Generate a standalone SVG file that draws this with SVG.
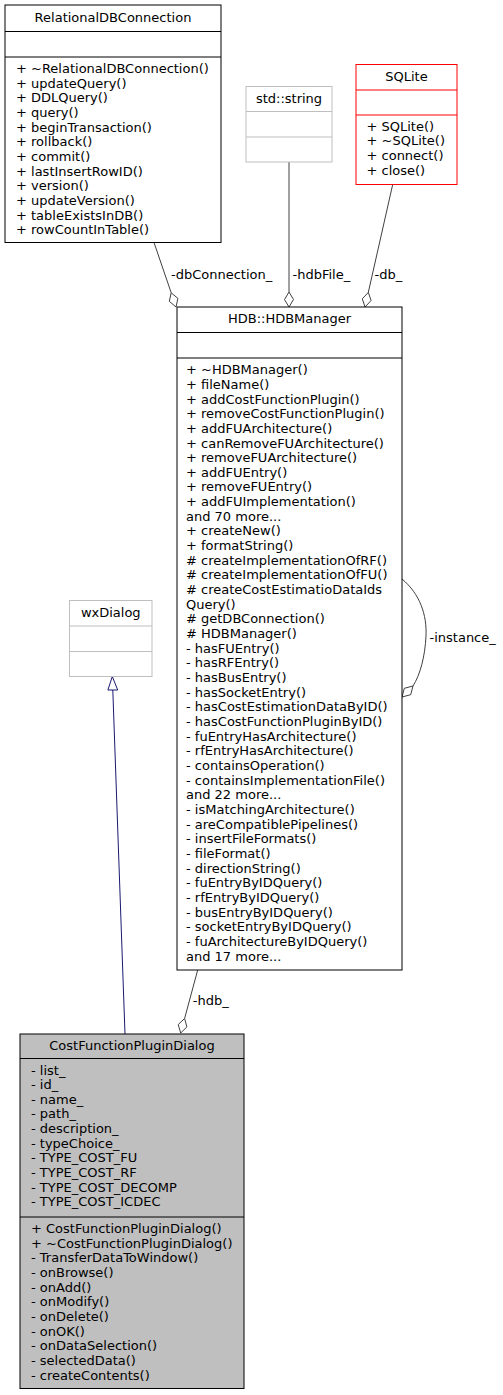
<svg xmlns="http://www.w3.org/2000/svg" width="503" height="1395" viewBox="0 0 503 1395">
<style>
text{font-family:"DejaVu Sans","Liberation Sans",sans-serif;font-size:13px;fill:#000}
.c{text-anchor:middle}
.box{fill:#fff;stroke:#000;stroke-width:1}
.ext{fill:#fff;stroke:#bfbfbf;stroke-width:1}
.trunc{fill:#fff;stroke:#ff0000;stroke-width:1}
.focus{fill:#bfbfbf;stroke:#000;stroke-width:1}
.sep{stroke:#000;stroke-width:1}
.sepg{stroke:#bfbfbf;stroke-width:1}
.sepr{stroke:#ff0000;stroke-width:1}
.edge{fill:none;stroke:#404040;stroke-width:1}
.dia{fill:#fff;stroke:#404040;stroke-width:1}
.inh{fill:none;stroke:#191970;stroke-width:1}
.tri{fill:#fff;stroke:#191970;stroke-width:1}
</style>
<rect width="503" height="1395" fill="#fff"/>
<g id="connectors">
<path class="edge" d="M154,242.5 L171.2,292.8"/>
<polygon class="dia" points="176,307 169.3,301.3 171.2,292.8 177.9,298.4"/>
<text x="171" y="279">-dbConnection_</text>
<path class="edge" d="M289,162 L289,292"/>
<polygon class="dia" points="289,307 284.5,299.5 289,292 293.5,299.5"/>
<text x="292.5" y="279">-hdbFile_</text>
<path class="edge" d="M392.7,184.5 L368.3,292.4"/>
<polygon class="dia" points="365,307 362.3,298.8 368.3,292.4 371.1,300.5"/>
<text x="374.5" y="279">-db_</text>
<path class="edge" d="M402,579 C420,594 427,615 426,636 C425,657 420,675 413,686"/>
<polygon class="dia" points="402,697 404.3,688.3 413,686 410.7,694.7"/>
<text x="429.5" y="642">-instance_</text>
<path class="edge" d="M197.7,970 L184.6,1018.5"/>
<polygon class="dia" points="180.7,1033 178.2,1024.6 184.6,1018.5 186.9,1026.9"/>
<text x="192.8" y="1005">-hdb_</text>
<path class="inh" d="M125,1034 L112.8,690"/>
<polygon class="tri" points="112.3,676.5 107.9,690 117.7,690"/>
</g>
<g id="RelationalDBConnection">
<rect class="box" x="5" y="5" width="216" height="237.5"/>
<line class="sep" x1="5" y1="31.5" x2="221" y2="31.5"/>
<line class="sep" x1="5" y1="57" x2="221" y2="57"/>
<text class="c" x="113" y="21.5">RelationalDBConnection</text>
<text x="16" y="73">+ ~RelationalDBConnection()<tspan x="16" dy="14.66">+ updateQuery()</tspan><tspan x="16" dy="14.66">+ DDLQuery()</tspan><tspan x="16" dy="14.66">+ query()</tspan><tspan x="16" dy="14.66">+ beginTransaction()</tspan><tspan x="16" dy="14.66">+ rollback()</tspan><tspan x="16" dy="14.66">+ commit()</tspan><tspan x="16" dy="14.66">+ lastInsertRowID()</tspan><tspan x="16" dy="14.66">+ version()</tspan><tspan x="16" dy="14.66">+ updateVersion()</tspan><tspan x="16" dy="14.66">+ tableExistsInDB()</tspan><tspan x="16" dy="14.66">+ rowCountInTable()</tspan></text>
</g>
<g id="std_string">
<rect class="ext" x="246" y="86.5" width="86" height="75.5"/>
<line class="sepg" x1="246" y1="111.5" x2="332" y2="111.5"/>
<line class="sepg" x1="246" y1="137" x2="332" y2="137"/>
<text class="c" x="289" y="102.5">std::string</text>
</g>
<g id="SQLite">
<rect class="trunc" x="356" y="64.5" width="101" height="120"/>
<line class="sepr" x1="356" y1="90" x2="457" y2="90"/>
<line class="sepr" x1="356" y1="115" x2="457" y2="115"/>
<text class="c" x="406.5" y="80.5">SQLite</text>
<text x="366.5" y="130.7">+ SQLite()<tspan x="366.5" dy="14.66">+ ~SQLite()</tspan><tspan x="366.5" dy="14.66">+ connect()</tspan><tspan x="366.5" dy="14.66">+ close()</tspan></text>
</g>
<g id="HDBManager">
<rect class="box" x="177" y="307" width="225" height="663"/>
<line class="sep" x1="177" y1="332.5" x2="402" y2="332.5"/>
<line class="sep" x1="177" y1="358" x2="402" y2="358"/>
<text class="c" x="289.5" y="323">HDB::HDBManager</text>
<text x="186" y="374.2">+ ~HDBManager()<tspan x="186" dy="14.66">+ fileName()</tspan><tspan x="186" dy="14.66">+ addCostFunctionPlugin()</tspan><tspan x="186" dy="14.66">+ removeCostFunctionPlugin()</tspan><tspan x="186" dy="14.66">+ addFUArchitecture()</tspan><tspan x="186" dy="14.66">+ canRemoveFUArchitecture()</tspan><tspan x="186" dy="14.66">+ removeFUArchitecture()</tspan><tspan x="186" dy="14.66">+ addFUEntry()</tspan><tspan x="186" dy="14.66">+ removeFUEntry()</tspan><tspan x="186" dy="14.66">+ addFUImplementation()</tspan><tspan x="186" dy="14.66">and 70 more...</tspan><tspan x="186" dy="14.66">+ createNew()</tspan><tspan x="186" dy="14.66">+ formatString()</tspan><tspan x="186" dy="14.66"># createImplementationOfRF()</tspan><tspan x="186" dy="14.66"># createImplementationOfFU()</tspan><tspan x="186" dy="14.66"># createCostEstimatioDataIds</tspan><tspan x="186" dy="14.66">Query()</tspan><tspan x="186" dy="14.66"># getDBConnection()</tspan><tspan x="186" dy="14.66"># HDBManager()</tspan><tspan x="186" dy="14.66">- hasFUEntry()</tspan><tspan x="186" dy="14.66">- hasRFEntry()</tspan><tspan x="186" dy="14.66">- hasBusEntry()</tspan><tspan x="186" dy="14.66">- hasSocketEntry()</tspan><tspan x="186" dy="14.66">- hasCostEstimationDataByID()</tspan><tspan x="186" dy="14.66">- hasCostFunctionPluginByID()</tspan><tspan x="186" dy="14.66">- fuEntryHasArchitecture()</tspan><tspan x="186" dy="14.66">- rfEntryHasArchitecture()</tspan><tspan x="186" dy="14.66">- containsOperation()</tspan><tspan x="186" dy="14.66">- containsImplementationFile()</tspan><tspan x="186" dy="14.66">and 22 more...</tspan><tspan x="186" dy="14.66">- isMatchingArchitecture()</tspan><tspan x="186" dy="14.66">- areCompatiblePipelines()</tspan><tspan x="186" dy="14.66">- insertFileFormats()</tspan><tspan x="186" dy="14.66">- fileFormat()</tspan><tspan x="186" dy="14.66">- directionString()</tspan><tspan x="186" dy="14.66">- fuEntryByIDQuery()</tspan><tspan x="186" dy="14.66">- rfEntryByIDQuery()</tspan><tspan x="186" dy="14.66">- busEntryByIDQuery()</tspan><tspan x="186" dy="14.66">- socketEntryByIDQuery()</tspan><tspan x="186" dy="14.66">- fuArchitectureByIDQuery()</tspan><tspan x="186" dy="14.66">and 17 more...</tspan></text>
</g>
<g id="wxDialog">
<rect class="ext" x="69.5" y="600.5" width="82.5" height="76"/>
<line class="sepg" x1="69.5" y1="626" x2="152" y2="626"/>
<line class="sepg" x1="69.5" y1="651.5" x2="152" y2="651.5"/>
<text class="c" x="110.75" y="616.5">wxDialog</text>
</g>
<g id="CostFunctionPluginDialog">
<rect class="focus" x="20" y="1034" width="224" height="354.5"/>
<line class="sep" x1="20" y1="1058.5" x2="244" y2="1058.5"/>
<line class="sep" x1="20" y1="1217" x2="244" y2="1217"/>
<text class="c" x="132" y="1050">CostFunctionPluginDialog</text>
<text x="31" y="1074.5">- list_<tspan x="31" dy="14.66">- id_</tspan><tspan x="31" dy="14.66">- name_</tspan><tspan x="31" dy="14.66">- path_</tspan><tspan x="31" dy="14.66">- description_</tspan><tspan x="31" dy="14.66">- typeChoice_</tspan><tspan x="31" dy="14.66">- TYPE_COST_FU</tspan><tspan x="31" dy="14.66">- TYPE_COST_RF</tspan><tspan x="31" dy="14.66">- TYPE_COST_DECOMP</tspan><tspan x="31" dy="14.66">- TYPE_COST_ICDEC</tspan></text>
<text x="31" y="1233">+ CostFunctionPluginDialog()<tspan x="31" dy="14.66">+ ~CostFunctionPluginDialog()</tspan><tspan x="31" dy="14.66">- TransferDataToWindow()</tspan><tspan x="31" dy="14.66">- onBrowse()</tspan><tspan x="31" dy="14.66">- onAdd()</tspan><tspan x="31" dy="14.66">- onModify()</tspan><tspan x="31" dy="14.66">- onDelete()</tspan><tspan x="31" dy="14.66">- onOK()</tspan><tspan x="31" dy="14.66">- onDataSelection()</tspan><tspan x="31" dy="14.66">- selectedData()</tspan><tspan x="31" dy="14.66">- createContents()</tspan></text>
</g>
</svg>
